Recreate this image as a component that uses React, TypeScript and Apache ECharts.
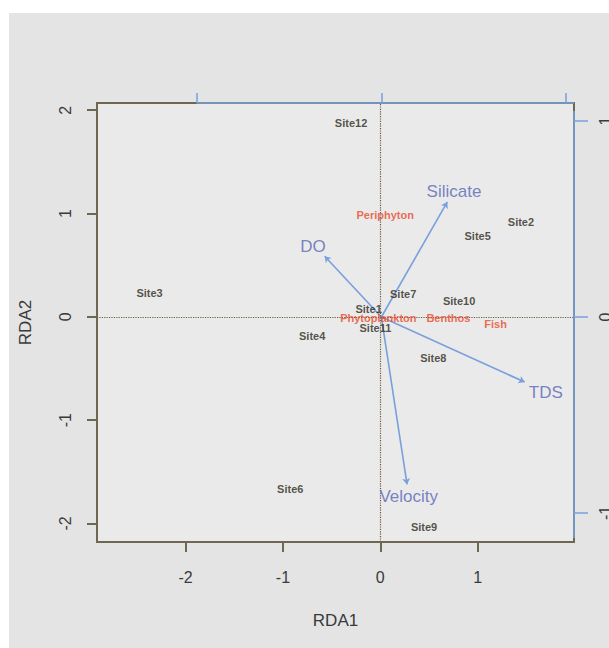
import React, { useEffect, useRef } from "react";
import * as echarts from "echarts";

// Primary (site / species score) axes
const xTicks = [-2, -1, 0, 1];
const yTicks = [-2, -1, 0, 1, 2];
const xRange = [-2.91, 1.99];
const yRange = [-2.18, 2.07];

// Secondary (biplot arrow) axes
const topTicks = [-1, 0, 1];
const rightTicks = [-1, 0, 1];
const x2Range = [-1.54, 1.043];
const y2Range = [-1.148, 1.092];

// Sites
const siteNames = ["Site1", "Site2", "Site3", "Site4", "Site5", "Site6", "Site7", "Site8", "Site9", "Site10", "Site11", "Site12"];
const siteX = [-0.12, 1.445, -2.37, -0.7, 1.0, -0.925, 0.235, 0.545, 0.45, 0.81, -0.05, -0.3];
const siteY = [0.075, 0.92, 0.23, -0.19, 0.78, -1.67, 0.22, -0.4, -2.03, 0.15, -0.11, 1.88];

// Species (response variables)
const speciesNames = ["Periphyton", "Phytoplankton", "Benthos", "Fish"];
const speciesX = [0.05, -0.02, 0.7, 1.185];
const speciesY = [0.985, -0.01, -0.01, -0.065];

// Environmental vectors (arrow tips and label positions, secondary scale)
const envNames = ["Silicate", "DO", "TDS", "Velocity"];
const envX = [0.357, -0.307, 0.776, 0.139];
const envY = [0.587, 0.31, -0.332, -0.854];
const envLabelX = [0.393, -0.37, 0.89, 0.148];
const envLabelY = [0.641, 0.362, -0.386, -0.914];

const BROWN = "#6e6852";
const BLUE_LINE = "#78a0dc";
const BLUE_TEXT = "#5865b5";
const FONT = "Liberation Sans, Arial, sans-serif";

export default function App() {
  const ref = useRef<HTMLDivElement>(null);

  useEffect(() => {
    if (!ref.current) return;
    const chart = echarts.init(ref.current, null, { renderer: "svg" });

    const option: any = {
      animation: false,
      backgroundColor: "transparent",
      textStyle: { fontFamily: FONT },
      grid: {
        left: 97,
        top: 103,
        width: 477,
        height: 439,
        show: true,
        backgroundColor: "#eaeaea",
        borderColor: BROWN,
        borderWidth: 2,
        containLabel: false,
        outerBoundsMode: "none",
      },
      xAxis: [
        {
          type: "value",
          min: xRange[0],
          max: xRange[1],
          position: "bottom",
          splitLine: { show: false },
          axisLine: { show: false, onZero: false },
          axisTick: {
            show: true,
            customValues: xTicks,
            length: 10,
            lineStyle: { color: BROWN, width: 2 },
          },
          axisLabel: {
            customValues: xTicks,
            margin: 27,
            fontSize: 16,
            color: "#3a3a3a",
            fontFamily: FONT,
          },
          name: "RDA1",
          nameLocation: "middle",
          nameGap: 70,
          nameTextStyle: { fontSize: 17, color: "#3a3a3a", fontFamily: FONT },
        },
        {
          type: "value",
          min: x2Range[0],
          max: x2Range[1],
          position: "top",
          splitLine: { show: false },
          axisLine: { show: false, onZero: false },
          axisTick: {
            show: true,
            customValues: topTicks,
            length: 10,
            lineStyle: { color: BLUE_LINE, width: 1.5 },
          },
          axisLabel: { show: false, customValues: topTicks },
        },
      ],
      yAxis: [
        {
          type: "value",
          min: yRange[0],
          max: yRange[1],
          position: "left",
          splitLine: { show: false },
          axisLine: { show: false, onZero: false },
          axisTick: {
            show: true,
            customValues: yTicks,
            length: 10,
            lineStyle: { color: BROWN, width: 2 },
          },
          axisLabel: {
            customValues: yTicks,
            rotate: 90,
            margin: 24,
            fontSize: 16,
            color: "#3a3a3a",
            fontFamily: FONT,
          },
          name: "RDA2",
          nameLocation: "middle",
          nameGap: 63,
          nameRotate: 90,
          nameTextStyle: { fontSize: 17, color: "#3a3a3a", fontFamily: FONT },
        },
        {
          type: "value",
          min: y2Range[0],
          max: y2Range[1],
          position: "right",
          splitLine: { show: false },
          axisLine: { show: false, onZero: false },
          axisTick: {
            show: true,
            customValues: rightTicks,
            length: 14,
            lineStyle: { color: BLUE_LINE, width: 1.5 },
          },
          axisLabel: {
            customValues: rightTicks,
            rotate: 90,
            margin: 23,
            fontSize: 16,
            color: "#3a3a3a",
            fontFamily: FONT,
          },
        },
      ],
      series: [
        {
          type: "scatter",
          name: "zero",
          xAxisIndex: 0,
          yAxisIndex: 0,
          data: [],
          silent: true,
          markLine: {
            silent: true,
            symbol: "none",
            label: { show: false },
            lineStyle: { type: "dotted", color: "#6a5a3a", width: 1.2 },
            data: [{ xAxis: 0 }, { yAxis: 0 }],
          },
        },
        {
          type: "lines",
          coordinateSystem: "cartesian2d",
          xAxisIndex: 1,
          yAxisIndex: 1,
          silent: true,
          symbol: ["none", "arrow"],
          symbolSize: 6,
          lineStyle: { color: BLUE_LINE, width: 1.6, opacity: 1 },
          data: envNames.map((n, i) => ({
            name: n,
            coords: [
              [0, 0],
              [envX[i], envY[i]],
            ],
          })),
          z: 3,
        },
        {
          type: "scatter",
          name: "sites",
          xAxisIndex: 0,
          yAxisIndex: 0,
          symbolSize: 1,
          itemStyle: { color: "transparent" },
          silent: true,
          data: siteNames.map((n, i) => ({ name: n, value: [siteX[i], siteY[i]] })),
          label: {
            show: true,
            position: "inside",
            formatter: (p: any) => p.name,
            fontSize: 11,
            fontWeight: "bold",
            color: "#2d2b1c",
            fontFamily: FONT,
          },
          z: 4,
        },
        {
          type: "scatter",
          name: "species",
          xAxisIndex: 0,
          yAxisIndex: 0,
          symbolSize: 1,
          itemStyle: { color: "transparent" },
          silent: true,
          data: speciesNames.map((n, i) => ({ name: n, value: [speciesX[i], speciesY[i]] })),
          label: {
            show: true,
            position: "inside",
            formatter: (p: any) => p.name,
            fontSize: 11,
            fontWeight: "bold",
            color: "#e84a2a",
            fontFamily: FONT,
          },
          z: 5,
        },
        {
          type: "scatter",
          name: "env",
          xAxisIndex: 1,
          yAxisIndex: 1,
          symbolSize: 1,
          itemStyle: { color: "transparent" },
          silent: true,
          data: envNames.map((n, i) => ({ name: n, value: [envLabelX[i], envLabelY[i]] })),
          label: {
            show: true,
            position: "inside",
            formatter: (p: any) => p.name,
            fontSize: 17,
            color: BLUE_TEXT,
            fontFamily: FONT,
          },
          z: 6,
        },
      ],
    };

    chart.setOption(option);

    // Blue secondary axis lines (drawn over the box edge, as in the reference)
    const tx0 = chart.convertToPixel({ xAxisIndex: 1 }, topTicks[0]) as number;
    const topY = chart.convertToPixel({ yAxisIndex: 0 }, yRange[1]) as number;
    const ry1 = chart.convertToPixel({ yAxisIndex: 1 }, rightTicks[0]) as number;
    const rightX = chart.convertToPixel({ xAxisIndex: 0 }, xRange[1]) as number;

    chart.setOption({
      graphic: [
        {
          type: "line",
          silent: true,
          z: 10,
          shape: { x1: tx0, y1: topY, x2: rightX, y2: topY },
          style: { stroke: BLUE_LINE, lineWidth: 1.6 },
        },
        {
          type: "line",
          silent: true,
          z: 10,
          shape: { x1: rightX, y1: topY + 8, x2: rightX, y2: ry1 + 25 },
          style: { stroke: BLUE_LINE, lineWidth: 1.6 },
        },
      ],
    });

    return () => chart.dispose();
  }, []);

  return (
    <div style={{ position: "fixed", left: 0, top: 0, width: 609, height: 648, background: "#ffffff", overflow: "hidden" }}>
      <div style={{ position: "absolute", left: 9, top: 13, width: 600, height: 635, background: "#e4e4e4" }} />
      <div ref={ref} style={{ position: "absolute", left: 0, top: 0, width: 609, height: 648 }} />
    </div>
  );
}
